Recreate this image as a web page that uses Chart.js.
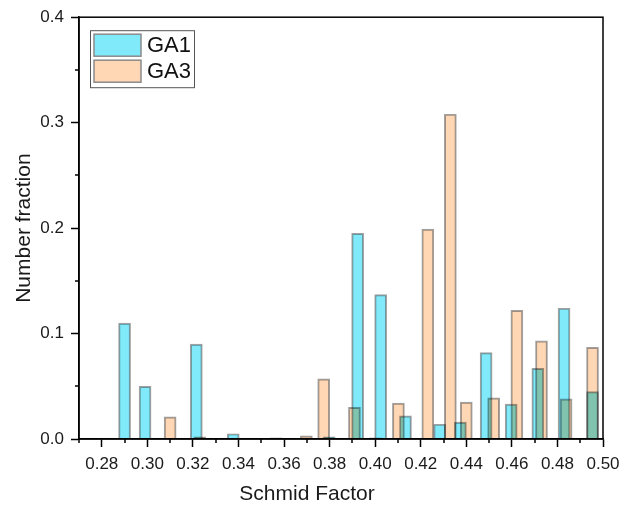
<!DOCTYPE html>
<html lang="en">
<head>
  <meta charset="UTF-8" />
  <title>Schmid Factor Distribution</title>
  <script src="https://cdn.jsdelivr.net/npm/chart.js"></script>
  <style>
    body { margin: 0; background: #fff; }
    #wrap { width: 633px; height: 506px; }
  </style>
</head>
<body>
  <div id="wrap"><canvas id="sfChart" width="633" height="506"></canvas></div>

  <script>
    // bin centres and number fractions
    const ga1X = [0.290, 0.299, 0.3215, 0.3377, 0.3566, 0.3798, 0.3923, 0.4024, 0.4133, 0.4283, 0.4374, 0.4487, 0.4597, 0.4714, 0.4829, 0.4954];
    const ga1Y = [0.110, 0.050, 0.090, 0.005, 0.001, 0.002, 0.195, 0.137, 0.022, 0.014, 0.016, 0.082, 0.033, 0.067, 0.124, 0.045];
    const ga3X = [0.310, 0.323, 0.3698, 0.3774, 0.3909, 0.4000, 0.4102, 0.4231, 0.4330, 0.4400, 0.4520, 0.4622, 0.4730, 0.4838, 0.4954];
    const ga3Y = [0.021, 0.002, 0.003, 0.057, 0.030, 0.001, 0.034, 0.199, 0.308, 0.035, 0.039, 0.122, 0.093, 0.038, 0.087];

    const xTicks = [0.28, 0.30, 0.32, 0.34, 0.36, 0.38, 0.40, 0.42, 0.44, 0.46, 0.48, 0.50];
    const xMinor = [0.27, 0.29, 0.31, 0.33, 0.35, 0.37, 0.39, 0.41, 0.43, 0.45, 0.47, 0.49];
    const yTicks = [0.0, 0.1, 0.2, 0.3, 0.4];
    const yMinor = [0.05, 0.15, 0.25, 0.35];

    const FONT = "'Liberation Sans', Arial, sans-serif";
    const ga1Color = '#80e9fa';
    const ga3Color = '#ffd7b4';
    const edge = 'rgba(120,120,120,0.7)';

    const toPoints = (xs, ys) => xs.map((x, i) => ({ x: x, y: ys[i] }));

    // overlapping bars mix like Origin's transparent fills
    const blendPlugin = {
      id: 'blend',
      beforeDatasetsDraw(chart) {
        chart.ctx.save();
        chart.ctx.globalCompositeOperation = 'multiply';
      },
      afterDatasetsDraw(chart) {
        chart.ctx.restore();
      }
    };

    // minor ticks, frame, x title and the boxed legend
    const decorPlugin = {
      id: 'decor',
      afterDraw(chart) {
        const ctx = chart.ctx;
        const a = chart.chartArea;
        const xs = chart.scales.x, ys = chart.scales.y;
        ctx.save();
        ctx.strokeStyle = '#000';
        ctx.lineWidth = 1.5;
        ctx.beginPath();
        xMinor.forEach(v => {
          const px = Math.round(xs.getPixelForValue(v));
          ctx.moveTo(px, a.bottom);
          ctx.lineTo(px, a.bottom + 4);
        });
        yMinor.forEach(v => {
          const py = Math.round(ys.getPixelForValue(v));
          ctx.moveTo(a.left, py);
          ctx.lineTo(a.left - 4, py);
        });
        ctx.stroke();
        ctx.strokeRect(a.left, a.top, a.right - a.left, a.bottom - a.top);

        ctx.fillStyle = '#1a1a1a';
        ctx.font = '21px ' + FONT;
        ctx.textAlign = 'center';
        ctx.textBaseline = 'middle';
        ctx.fillText('Schmid Factor', (a.left + a.right) / 2 - 34, 494);

        // legend
        const lx = a.left + 11, ly = a.top + 13;
        ctx.fillStyle = '#fff';
        ctx.fillRect(lx, ly, 104, 57);
        ctx.lineWidth = 1;
        ctx.strokeStyle = '#555';
        ctx.strokeRect(lx + 0.5, ly + 0.5, 104, 57);
        chart.data.datasets.forEach((ds, i) => {
          const sy = ly + 4 + i * 26;
          ctx.fillStyle = ds.backgroundColor;
          ctx.fillRect(lx + 4, sy, 47, 22);
          ctx.lineWidth = 1.5;
          ctx.strokeStyle = '#8a8a8a';
          ctx.strokeRect(lx + 4, sy, 47, 22);
          ctx.fillStyle = '#111';
          ctx.font = '22px ' + FONT;
          ctx.textAlign = 'left';
          ctx.fillText(ds.label, lx + 57, sy + 12);
        });
        ctx.restore();
      }
    };

    new Chart(document.getElementById('sfChart'), {
      type: 'bar',
      data: {
        datasets: [
          {
            label: 'GA1',
            data: toPoints(ga1X, ga1Y),
            backgroundColor: ga1Color,
            borderColor: edge,
            borderWidth: 1.3,
            barThickness: 12,
            grouped: false
          },
          {
            label: 'GA3',
            data: toPoints(ga3X, ga3Y),
            backgroundColor: ga3Color,
            borderColor: edge,
            borderWidth: 1.3,
            barThickness: 12,
            grouped: false
          }
        ]
      },
      options: {
        responsive: false,
        animation: false,
        layout: { padding: { top: 17, right: 30, left: 0, bottom: 0 } },
        plugins: { legend: { display: false }, tooltip: { enabled: false } },
        scales: {
          x: {
            type: 'linear',
            min: 0.27,
            max: 0.50,
            offset: false,
            afterBuildTicks: s => { s.ticks = xTicks.map(v => ({ value: v })); },
            afterFit: s => { s.height = 67; },
            grid: { drawOnChartArea: false, offset: false, tickLength: 8, tickColor: '#000', tickWidth: 1.5 },
            border: { color: '#000', width: 1.5 },
            ticks: {
              autoSkip: false,
              maxRotation: 0,
              padding: 7,
              color: '#1a1a1a',
              font: { family: FONT, size: 17 },
              callback: v => v.toFixed(2)
            }
          },
          y: {
            min: 0,
            max: 0.4,
            afterBuildTicks: s => { s.ticks = yTicks.map(v => ({ value: v })); },
            afterFit: s => { s.width = 79; },
            grid: { drawOnChartArea: false, tickLength: 8, tickColor: '#000', tickWidth: 1.5 },
            border: { color: '#000', width: 1.5 },
            ticks: {
              padding: 7,
              color: '#1a1a1a',
              font: { family: FONT, size: 17 },
              callback: v => v.toFixed(1)
            },
            title: {
              display: true,
              text: 'Number fraction',
              color: '#1a1a1a',
              font: { family: FONT, size: 21 },
              padding: { top: 12, bottom: 0 }
            }
          }
        }
      },
      plugins: [blendPlugin, decorPlugin]
    });
  </script>
</body>
</html>
